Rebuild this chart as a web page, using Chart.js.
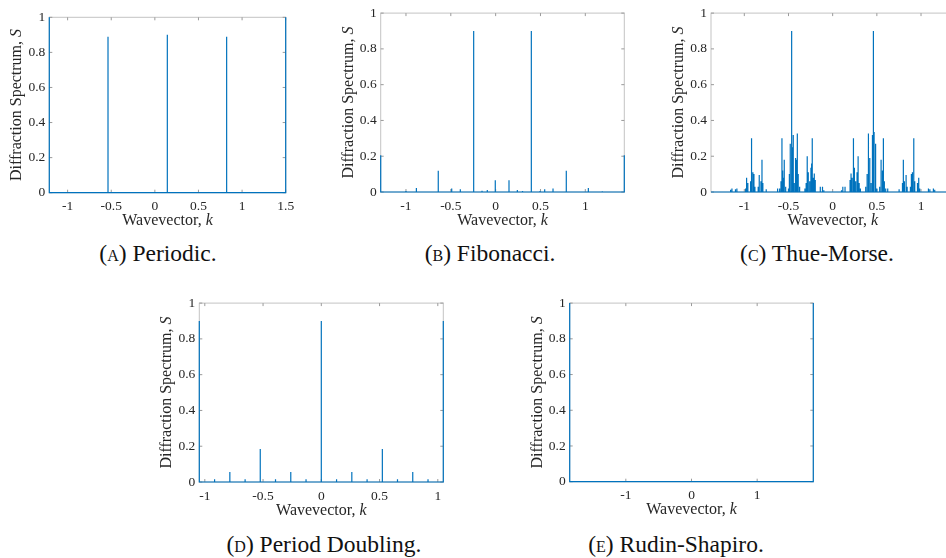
<!DOCTYPE html>
<html>
<head>
<meta charset="utf-8">
<script src="https://cdn.jsdelivr.net/npm/chart.js@4.4.0/dist/chart.umd.min.js"></script>
<style>
  html, body { margin: 0; padding: 0; background: #fff; overflow: hidden; width: 946px; height: 558px; }
  canvas { position: absolute; }
  .cap { position: absolute; font-family: "Liberation Serif", serif; font-size: 23.5px; line-height: 28px;
         color: #111; white-space: nowrap; transform: translateX(-50%); }
  .sc { font-variant: small-caps; }
</style>
</head>
<body>
<canvas id="cA"></canvas>
<canvas id="cB"></canvas>
<canvas id="cC"></canvas>
<canvas id="cD"></canvas>
<canvas id="cE"></canvas>

<div class="cap" style="left:158px;top:239px">(<span class="sc">a</span>) Periodic.</div>
<div class="cap" style="left:490px;top:239px">(<span class="sc">b</span>) Fibonacci.</div>
<div class="cap" style="left:817px;top:239px">(<span class="sc">c</span>) Thue-Morse.</div>
<div class="cap" style="left:324px;top:530px">(<span class="sc">d</span>) Period Doubling.</div>
<div class="cap" style="left:676px;top:530px">(<span class="sc">e</span>) Rudin-Shapiro.</div>

<script>
// ---- data: peak positions k and heights S ----
const periodicK = [-1.21, -0.537, 0.143, 0.823, 1.5];
const periodicS = [1, 0.889, 0.90, 0.889, 1];

const fibonacciK = [-1.282, -1.0, -0.884, -0.79, -0.73, -0.64, -0.56, -0.49, -0.394, -0.33, -0.245,
  -0.152, -0.093, -0.004, 0.074, 0.149, 0.242, 0.30, 0.398, 0.495, 0.547, 0.64, 0.70, 0.788,
  0.94, 1.034, 1.19, 1.435];
const fibonacciS = [0.206, 0.005, 0.022, 0.003, 0.003, 0.119, 0.003, 0.019, 0.015, 0.003, 0.90,
  0.007, 0.011, 0.065, 0.003, 0.065, 0.011, 0.006, 0.90, 0.005, 0.015, 0.019, 0.003, 0.119,
  0.003, 0.022, 0.004, 0.206];

const thueMorseK = [-1.155, -1.14, -1.10, -1.084, -0.985, -0.974, -0.96, -0.929, -0.918, -0.903,
  -0.891, -0.88, -0.843, -0.831, -0.812, -0.80, -0.79, -0.752, -0.623, -0.60, -0.585, -0.574,
  -0.566, -0.56, -0.548, -0.532, -0.50, -0.49, -0.48, -0.469, -0.461, -0.453, -0.446, -0.435,
  -0.42, -0.408, -0.40, -0.39, -0.374, -0.314, -0.30, -0.288, -0.276, -0.26, -0.246, -0.238,
  -0.231, -0.22, -0.208, -0.197, -0.14, -0.115, -0.10,
  0.10, 0.115, 0.14, 0.197, 0.208, 0.22, 0.231, 0.238, 0.246, 0.26, 0.276, 0.288, 0.30, 0.314,
  0.374, 0.39, 0.40, 0.408, 0.42, 0.435, 0.446, 0.453, 0.461, 0.469, 0.48, 0.49, 0.50, 0.532,
  0.548, 0.56, 0.566, 0.574, 0.585, 0.60, 0.623, 0.752, 0.79, 0.80, 0.812, 0.831, 0.843, 0.88,
  0.891, 0.903, 0.918, 0.929, 0.96, 0.974, 0.985, 1.084, 1.10, 1.14, 1.155];
const thueMorseS = [0.012, 0.02, 0.015, 0.02, 0.02, 0.08, 0.05, 0.06, 0.30, 0.11,
  0.10, 0.03, 0.03, 0.095, 0.06, 0.18, 0.05, 0.015, 0.02, 0.02, 0.06, 0.30,
  0.12, 0.08, 0.18, 0.03, 0.02, 0.10, 0.27, 0.336, 0.90, 0.25, 0.318, 0.05,
  0.19, 0.18, 0.327, 0.10, 0.03, 0.02, 0.05, 0.20, 0.11, 0.06, 0.135, 0.16,
  0.30, 0.08, 0.104, 0.067, 0.03, 0.03, 0.01,
  0.01, 0.03, 0.03, 0.067, 0.104, 0.08, 0.30, 0.16, 0.135, 0.06, 0.11, 0.20, 0.05, 0.02,
  0.03, 0.10, 0.327, 0.18, 0.19, 0.05, 0.318, 0.25, 0.90, 0.336, 0.27, 0.10, 0.02, 0.03,
  0.18, 0.08, 0.12, 0.30, 0.06, 0.02, 0.02, 0.015, 0.05, 0.18, 0.06, 0.095, 0.03, 0.03,
  0.10, 0.11, 0.30, 0.06, 0.05, 0.08, 0.02, 0.02, 0.015, 0.02, 0.012];

const doublingK = [-1.0472, -0.916, -0.785, -0.654, -0.524, -0.393, -0.262, -0.131, 0,
  0.131, 0.262, 0.393, 0.524, 0.654, 0.785, 0.916, 1.0472];
const doublingS = [0.9, 0.015, 0.056, 0.015, 0.184, 0.015, 0.056, 0.015, 0.9,
  0.015, 0.056, 0.015, 0.184, 0.015, 0.056, 0.015, 0.9];

const rudinK = [-1.855, 1.855];
const rudinS = [1, 1];

const yTicks = [0, 0.2, 0.4, 0.6, 0.8, 1];
const xTitle = ['Wavevector, ', 'k'];
const yTitle = ['Diffraction Spectrum, ', 'S'];

// ---- layout of the five panels (plot box in page pixels) ----
const panels = [
  { id: 'cA', k: periodicK,  s: periodicS,  min: -1.21,  max: 1.5,    step: 0.5, box: [49.3, 17.3, 285.7, 192.7] },
  { id: 'cB', k: fibonacciK, s: fibonacciS, min: -1.282, max: 1.435,  step: 0.5, box: [380.7, 12.7, 624.3, 192] },
  { id: 'cC', k: thueMorseK, s: thueMorseS, min: -1.377, max: 1.38,   step: 0.5, box: [711, 12.7, 954.6, 192] },
  { id: 'cD', k: doublingK,  s: doublingS,  min: -1.0472, max: 1.0472, step: 0.5, box: [199.3, 302.7, 443.3, 482] },
  { id: 'cE', k: rudinK,     s: rudinS,     min: -1.855, max: 1.855,  step: 1,   box: [569.7, 302.7, 813.3, 481.7] }
];

const BLUE = '#0072BD';
const FRAME = '#c4c4c4';
const TEXT = '#262626';
const SERIF = '"Liberation Serif", serif';

Chart.defaults.font.family = SERIF;
Chart.defaults.color = TEXT;

// spike line: baseline with a vertical stroke at each peak
function spikes(ks, ss, min, max) {
  let pts = [{ x: min, y: 0 }];
  for (let i = 0; i < ks.length; i++) {
    pts.push({ x: ks[i], y: 0 }, { x: ks[i], y: ss[i] }, { x: ks[i], y: 0 });
  }
  pts.push({ x: max, y: 0 });
  return pts;
}

// matlab style box with inward ticks
const boxPlugin = {
  id: 'boxPlugin',
  beforeDatasetsDraw(chart) {
    const { ctx, chartArea: a, scales } = chart;
    ctx.save();
    ctx.strokeStyle = FRAME;
    ctx.lineWidth = 1;
    ctx.strokeRect(a.left, a.top, a.right - a.left, a.bottom - a.top);
    ctx.strokeStyle = '#9a9a9a';
    ctx.beginPath();
    scales.x.ticks.forEach(t => {
      const px = scales.x.getPixelForValue(t.value);
      ctx.moveTo(px, a.bottom); ctx.lineTo(px, a.bottom - 3);
      ctx.moveTo(px, a.top); ctx.lineTo(px, a.top + 3);
    });
    scales.y.ticks.forEach(t => {
      const py = scales.y.getPixelForValue(t.value);
      ctx.moveTo(a.left, py); ctx.lineTo(a.left + 3, py);
      ctx.moveTo(a.right, py); ctx.lineTo(a.right - 3, py);
    });
    ctx.stroke();
    ctx.restore();
  }
};

// axis titles with the italic symbol
function drawMixed(ctx, parts, cx, y) {
  const fonts = ['16px ' + SERIF, 'italic 16px ' + SERIF];
  let w = 0;
  parts.forEach((t, i) => { ctx.font = fonts[i]; w += ctx.measureText(t).width; });
  let x = cx - w / 2;
  ctx.textAlign = 'left';
  parts.forEach((t, i) => { ctx.font = fonts[i]; ctx.fillText(t, x, y); x += ctx.measureText(t).width; });
}

const titlePlugin = {
  id: 'titlePlugin',
  afterDraw(chart) {
    const { ctx, chartArea: a } = chart;
    ctx.save();
    ctx.fillStyle = TEXT;
    ctx.textBaseline = 'alphabetic';
    drawMixed(ctx, xTitle, (a.left + a.right) / 2, a.bottom + 32.5);
    ctx.translate(a.left - 28, (a.top + a.bottom) / 2);
    ctx.rotate(-Math.PI / 2);
    drawMixed(ctx, yTitle, 0, 0);
    ctx.restore();
  }
};

function fmt(v) { return String(Math.round(v * 10) / 10); }

panels.forEach(p => {
  const [L, T, R, B] = p.box;
  const left = Math.round(L - 41);
  const top = Math.round(T - 12);
  const yW = L - left;
  const padTop = T - top;
  const width = Math.ceil(R - left + 16);
  const height = Math.ceil(B - top + 37);
  const xH = height - (B - top);

  const cv = document.getElementById(p.id);
  cv.width = width; cv.height = height;
  cv.style.left = left + 'px';
  cv.style.top = top + 'px';
  cv.style.width = width + 'px';
  cv.style.height = height + 'px';

  new Chart(cv, {
    type: 'scatter',
    data: {
      datasets: [{
        data: spikes(p.k, p.s, p.min, p.max),
        showLine: true,
        borderColor: BLUE,
        borderWidth: 1.2,
        pointRadius: 0,
        tension: 0,
        clip: 1.5
      }]
    },
    options: {
      responsive: false,
      animation: false,
      devicePixelRatio: 1,
      layout: { padding: { left: 0, top: padTop, right: width - (R - left), bottom: 0 } },
      plugins: { legend: { display: false }, tooltip: { enabled: false } },
      scales: {
        x: {
          type: 'linear', min: p.min, max: p.max,
          grid: { display: false, drawTicks: false },
          border: { display: false },
          ticks: { stepSize: p.step, includeBounds: false, padding: 6, font: { size: 13.5 }, callback: fmt, maxRotation: 0 },
          afterFit: s => { s.height = xH; }
        },
        y: {
          min: 0, max: 1,
          grid: { display: false, drawTicks: false },
          border: { display: false },
          afterBuildTicks: s => { s.ticks = yTicks.map(v => ({ value: v })); },
          ticks: { padding: 4, font: { size: 13.5 }, callback: fmt },
          afterFit: s => { s.width = yW; }
        }
      }
    },
    plugins: [boxPlugin, titlePlugin]
  });
});
</script>
</body>
</html>
